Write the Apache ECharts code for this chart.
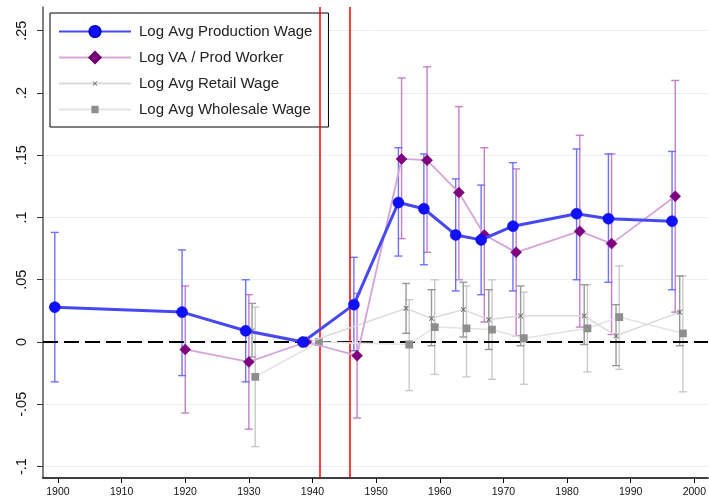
<!DOCTYPE html>
<html><head><meta charset="utf-8">
<script src="https://cdn.jsdelivr.net/npm/echarts@6/dist/echarts.min.js"></script>
<style>html,body{margin:0;padding:0;background:#fff}#c{width:709px;height:501px}</style>
</head><body><div id="c"></div><script>
// Axis ticks
const xTicks = [1900, 1910, 1920, 1930, 1940, 1950, 1960, 1970, 1980, 1990, 2000];
const yTicks = [-0.1, -0.05, 0, 0.05, 0.1, 0.15, 0.2, 0.25];
const yTickLabels = ['-.1', '-.05', '0', '.05', '.1', '.15', '.2', '.25'];
const eventYears = [1941.08, 1945.8];

// Log Avg Production Wage
const prodYears = [1899.5, 1919.5, 1929.5, 1938.5, 1946.5, 1953.5, 1957.5, 1962.5, 1966.5, 1971.5, 1981.5, 1986.5, 1996.5];
const prodVals  = [0.028, 0.024, 0.009, 0, 0.030, 0.112, 0.107, 0.086, 0.082, 0.093, 0.103, 0.099, 0.097];
const prodLow   = [-0.032, -0.027, -0.032, null, -0.007, 0.069, 0.062, 0.041, 0.038, 0.041, 0.050, 0.048, 0.042];
const prodHigh  = [0.088, 0.074, 0.050, null, 0.068, 0.156, 0.151, 0.131, 0.126, 0.144, 0.155, 0.151, 0.153];

// Log VA / Prod Worker
const vaYears = [1920, 1930, 1939, 1947, 1954, 1958, 1963, 1967, 1972, 1982, 1987, 1997];
const vaVals  = [-0.006, -0.016, 0, -0.011, 0.147, 0.146, 0.120, 0.086, 0.072, 0.089, 0.079, 0.117];
const vaLow   = [-0.057, -0.070, null, -0.061, 0.083, 0.072, 0.050, 0.016, 0.005, 0.012, 0.006, 0.024];
const vaHigh  = [0.045, 0.038, null, 0.039, 0.212, 0.221, 0.189, 0.156, 0.139, 0.166, 0.151, 0.210];

// Log Avg Retail Wage
const retailYears = [1930.5, 1939.5, 1954.7, 1958.7, 1963.7, 1967.7, 1972.7, 1982.7, 1987.7, 1997.7];
const retailVals  = [0.009, 0, 0.027, 0.019, 0.026, 0.018, 0.021, 0.021, 0.005, 0.024];
const retailLow   = [-0.012, null, 0.007, -0.003, 0.004, -0.006, -0.003, -0.002, -0.019, -0.003];
const retailHigh  = [0.031, null, 0.047, 0.042, 0.048, 0.042, 0.045, 0.046, 0.030, 0.053];

// Log Avg Wholesale Wage
const wholeYears = [1931, 1941, 1955.2, 1959.2, 1964.2, 1968.2, 1973.2, 1983.2, 1988.2, 1998.2];
const wholeVals  = [-0.028, 0, -0.002, 0.012, 0.011, 0.010, 0.003, 0.011, 0.020, 0.007];
const wholeLow   = [-0.084, null, -0.039, -0.026, -0.028, -0.030, -0.034, -0.024, -0.022, -0.040];
const wholeHigh  = [0.028, null, 0.034, 0.050, 0.045, 0.050, 0.040, 0.046, 0.061, 0.053];

const FONT = '"Liberation Sans", Arial, Helvetica, sans-serif';

function pts(xs, ys) { return xs.map((x, i) => [x, ys[i]]); }
function bars(xs, lo, hi) {
  const out = [];
  xs.forEach((x, i) => { if (lo[i] != null && hi[i] != null) out.push([x, lo[i], hi[i]]); });
  return out;
}
function errSeries(data, color, z) {
  return {
    type: 'custom', silent: true, z: z,
    data: data,
    encode: { x: 0, y: [1, 2] },
    renderItem: function (params, api) {
      const x = api.value(0);
      const lo = api.coord([x, api.value(1)]);
      const hi = api.coord([x, api.value(2)]);
      const w = 4;
      const st = { stroke: color, lineWidth: 1.4 };
      return {
        type: 'group', children: [
          { type: 'line', shape: { x1: lo[0], y1: lo[1], x2: hi[0], y2: hi[1] }, style: st },
          { type: 'line', shape: { x1: lo[0] - w, y1: lo[1], x2: lo[0] + w, y2: lo[1] }, style: st },
          { type: 'line', shape: { x1: hi[0] - w, y1: hi[1], x2: hi[0] + w, y2: hi[1] }, style: st }
        ]
      };
    }
  };
}

// Symbols padded with tiny corner specks so the legend icon is drawn small
const xMark = 'path://M-7.5,-7.5 L-7.45,-7.5 L-7.5,-7.45 Z M0,1 L1,0 L5,4 L9,0 L10,1 L6,5 L10,9 L9,10 L5,6 L1,10 L0,9 L4,5 Z M17.5,17.5 L17.45,17.5 L17.5,17.45 Z';
const sqMark = 'path://M-2.7,-2.7 L-2.65,-2.7 L-2.7,-2.65 Z M0,0 L10,0 L10,10 L0,10 Z M12.7,12.7 L12.65,12.7 L12.7,12.65 Z';

const chart = echarts.init(document.getElementById('c'), null, { renderer: 'canvas' });
chart.setOption({
  animation: false,
  backgroundColor: '#ffffff',
  grid: { left: 43, right: 0, top: 7, bottom: 23, containLabel: false },
  xAxis: {
    type: 'value', min: 1897.65, max: 2002.15,
    axisLine: { show: true, onZero: false, lineStyle: { color: '#000', width: 1.5 } },
    axisTick: { show: true, length: 5, customValues: xTicks, lineStyle: { color: '#000', width: 1 } },
    axisLabel: { customValues: xTicks, margin: 9, fontSize: 10.5, color: '#111', fontFamily: FONT,
      formatter: function (v) { return String(Math.round(v)); } },
    splitLine: { show: false }
  },
  yAxis: {
    type: 'value', min: -0.1092, max: 0.269,
    axisLine: { show: true, onZero: false, lineStyle: { color: '#555', width: 1.5 } },
    axisTick: { show: true, length: 6, customValues: yTicks, lineStyle: { color: '#333', width: 1 } },
    axisLabel: {
      customValues: yTicks, rotate: 90, margin: 14, fontSize: 14.5, color: '#111', fontFamily: FONT,
      formatter: function (v) {
        for (let i = 0; i < yTicks.length; i++) if (Math.abs(yTicks[i] - v) < 1e-9) return yTickLabels[i];
        return '';
      }
    },
    splitLine: { show: true, lineStyle: { color: '#e9eff2', width: 1 } }
  },
  legend: {
    data: ['Log Avg Production Wage', 'Log VA / Prod Worker', 'Log Avg Retail Wage', 'Log Avg Wholesale Wage'],
    orient: 'vertical', left: 50, top: 13,
    backgroundColor: '#fff', borderColor: '#000', borderWidth: 1,
    padding: [10, 16, 9, 8], itemGap: 9,
    itemWidth: 72, itemHeight: 14,
    textStyle: { fontSize: 15, lineHeight: 17, color: '#222', fontFamily: FONT, padding: [0, 0, 0, 3] },
    selectedMode: false
  },
  series: [
    errSeries(bars(wholeYears, wholeLow, wholeHigh), '#c9c9c9', 1),
    errSeries(bars(retailYears, retailLow, retailHigh), '#999999', 2),
    errSeries(bars(vaYears, vaLow, vaHigh), '#c47fc8', 3),
    errSeries(bars(prodYears, prodLow, prodHigh), '#7070ff', 4),
    {
      name: 'Log Avg Wholesale Wage', type: 'line', z: 5,
      data: pts(wholeYears, wholeVals),
      symbol: sqMark, symbolSize: 12,
      lineStyle: { color: '#e3e3e3', width: 1.5 },
      itemStyle: { color: '#8e8e8e' },
      markLine: {
        silent: true, symbol: ['none', 'none'], label: { show: false },
        data: [
          { yAxis: 0, lineStyle: { color: '#000', width: 2, type: [15, 6] } },
          { xAxis: eventYears[0], lineStyle: { color: '#ff0000', width: 1.5, type: 'solid' } },
          { xAxis: eventYears[1], lineStyle: { color: '#ff0000', width: 1.5, type: 'solid' } }
        ]
      }
    },
    {
      name: 'Log Avg Retail Wage', type: 'line', z: 6,
      data: pts(retailYears, retailVals),
      symbol: xMark, symbolSize: 13,
      lineStyle: { color: '#dadada', width: 1.5 },
      itemStyle: { color: '#555555' }
    },
    {
      name: 'Log VA / Prod Worker', type: 'line', z: 7,
      data: pts(vaYears, vaVals),
      symbol: 'diamond', symbolSize: 11,
      lineStyle: { color: '#d7a4d9', width: 1.8 },
      itemStyle: { color: '#800080', borderColor: '#6a006a', borderWidth: 0.5 }
    },
    {
      name: 'Log Avg Production Wage', type: 'line', z: 8,
      data: pts(prodYears, prodVals),
      symbol: 'circle', symbolSize: 11,
      lineStyle: { color: '#4848f2', width: 3 },
      itemStyle: { color: '#1010ff', borderColor: '#0000cc', borderWidth: 0.5 }
    }
  ]
});
</script></body></html>
